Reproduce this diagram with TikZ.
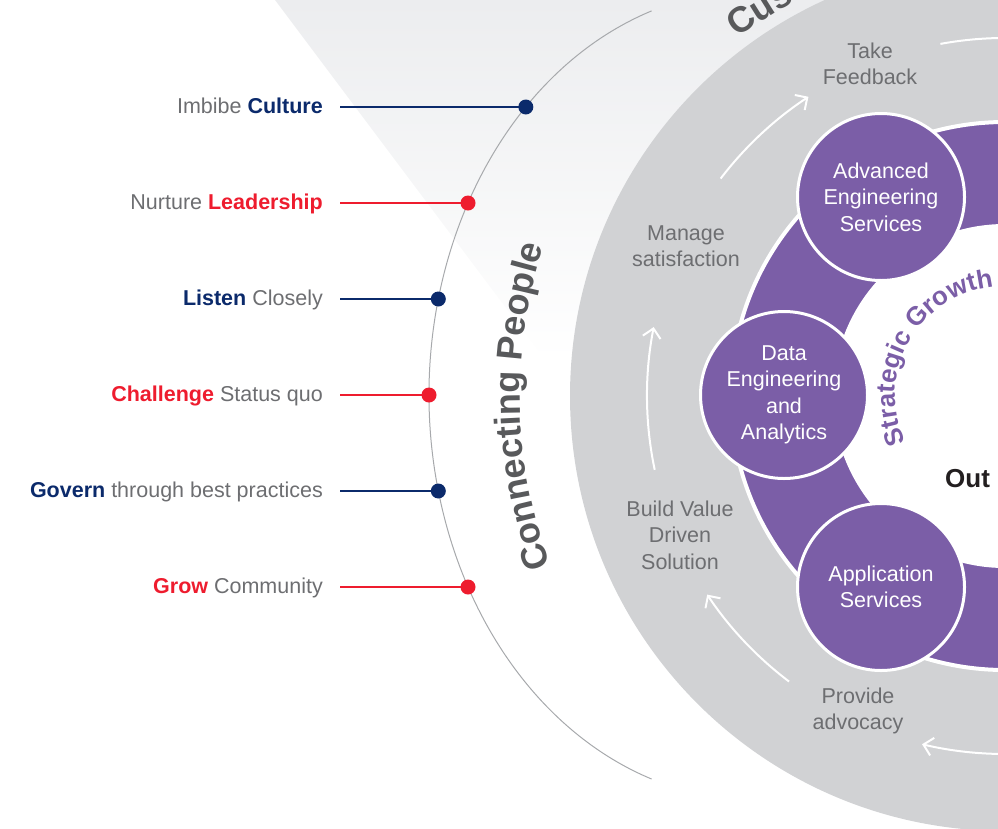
\documentclass[tikz,border=0pt]{standalone}
\usepackage{fontspec}
\setmainfont{Liberation Sans}
\usetikzlibrary{arrows.meta,decorations.text}

\definecolor{navy}{HTML}{0B2A6B}
\definecolor{brandred}{HTML}{EE1C2E}
\definecolor{ringgray}{HTML}{D1D2D4}
\definecolor{hubpurple}{HTML}{7B5EA7}
\definecolor{softtext}{HTML}{6D6E71}
\definecolor{darktext}{HTML}{58595B}
\definecolor{arcgray}{HTML}{A7A9AC}
\definecolor{haze}{HTML}{ECEDEF}
\definecolor{inkblack}{HTML}{231F20}

\newcommand{\bodyfont}{\fontsize{21.5}{26.5}\selectfont}
\newcommand{\arcfont}{\bfseries\fontsize{36}{42}\selectfont}
\newcommand{\growfont}{\bfseries\fontsize{26}{31}\selectfont}

\tikzset{
  pillar/.style={anchor=base east, inner sep=0pt, text=softtext, font=\bodyfont},
  bead/.style={circle, fill=#1, inner sep=0pt, minimum size=15pt},
  lead/.style={draw=#1, line width=1.5pt, shorten >=17pt},
  ringnote/.style={align=center, text=softtext, font=\bodyfont},
  service/.style={circle, fill=hubpurple, draw=white, line width=3pt, minimum size=167pt,
    inner sep=0pt, align=center, text=white, font=\bodyfont},
  flow/.style={white, line width=2pt, -{Straight Barb[length=9pt, width=18pt]}},
}

\begin{document}
\begin{tikzpicture}[x=1pt, y=1pt]
  \useasboundingbox (0,0) rectangle (998,-828);
  \clip (0,0) rectangle (998,-828);
  \coordinate (core) at (1005,-396);

  % soft haze in the upper part
  \shade[top color=haze, bottom color=white] (275,0) -- (998,0) -- (998,-360) -- (545,-360) -- cycle;

  % the people arc with its six values
  \coordinate (arctop) at (651.6,-10.9);
  \draw[arcgray, line width=1pt] (arctop) arc[start angle=108.5, end angle=251.5, x radius=326, y radius=405];

  \node[pillar] (imbibe) at (323,-113) {Imbibe {\bfseries\color{navy}Culture}};
  \node[pillar] (nurture) at (323,-209) {Nurture {\bfseries\color{brandred}Leadership}};
  \node[pillar] (listen) at (323,-305) {{\bfseries\color{navy}Listen} Closely};
  \node[pillar] (challenge) at (323,-401) {{\bfseries\color{brandred}Challenge} Status quo};
  \node[pillar] (govern) at (323,-497) {{\bfseries\color{navy}Govern} through best practices};
  \node[pillar] (grow) at (323,-593) {{\bfseries\color{brandred}Grow} Community};

  \coordinate (culture) at (525.8,-107);
  \coordinate (leadership) at (468,-203);
  \coordinate (closely) at (438.3,-299);
  \coordinate (statusquo) at (429,-395);
  \coordinate (practices) at (438.3,-491);
  \coordinate (community) at (468,-587);

  \draw[lead=navy] (culture) -- (culture -| imbibe.east);
  \draw[lead=brandred] (leadership) -- (leadership -| nurture.east);
  \draw[lead=navy] (closely) -- (closely -| listen.east);
  \draw[lead=brandred] (statusquo) -- (statusquo -| challenge.east);
  \draw[lead=navy] (practices) -- (practices -| govern.east);
  \draw[lead=brandred] (community) -- (community -| grow.east);

  \node[bead=navy] at (culture) {};
  \node[bead=brandred] at (leadership) {};
  \node[bead=navy] at (closely) {};
  \node[bead=brandred] at (statusquo) {};
  \node[bead=navy] at (practices) {};
  \node[bead=brandred] at (community) {};

  % rings
  \fill[ringgray] (core) circle[radius=435];
  \draw[white, line width=4pt, fill=hubpurple] (core) circle[radius=274];
  \fill[white] (core) circle[radius=172];

  % cycle arrows in the grey ring
  \foreach \from/\to in {142.6/123.3, 191.9/168.9, 232.9/213.7, 268.9/256.6, 100.4/80}
    \draw[flow] ([shift={(\from:358)}]core) arc[start angle=\from, end angle=\to, radius=358];

  \node[ringnote] (feedback) at (870,-64) {Take\\Feedback};
  \node[ringnote] (satisfaction) at (686,-246) {Manage\\satisfaction};
  \node[ringnote] (value) at (680,-535) {Build Value\\Driven\\Solution};
  \node[ringnote] (advocacy) at (858,-711) {Provide\\advocacy};

  % service circles
  \node[service] (advanced) at (881,-197) {Advanced\\Engineering\\Services};
  \node[service] (data) at (784,-395) {Data\\Engineering\\and\\Analytics};
  \node[service] (application) at (881,-587) {Application\\Services};

  % curved titles
  \path[decorate, decoration={text along path, text color=darktext, text={|\arcfont|Connecting People}}]
    ([shift={(200.5:485)}]core) arc[start angle=200.5, end angle=150, radius=485];
  \path[decorate, decoration={text along path, text color=darktext, text={|\arcfont|Cus}}]
    ([shift={(126.8:447)}]core) arc[start angle=126.8, end angle=95, radius=447];
  \path[decorate, decoration={text along path, text color=hubpurple, text={|\growfont|Strategic Growth}}]
    ([shift={(205:110)}]core) arc[start angle=205, end angle=60, radius=110];

  \node[anchor=base west, inner sep=0pt, text=inkblack, font=\bfseries\fontsize{26}{30}\selectfont] (outcome) at (945,-487) {Out};
\end{tikzpicture}
\end{document}
